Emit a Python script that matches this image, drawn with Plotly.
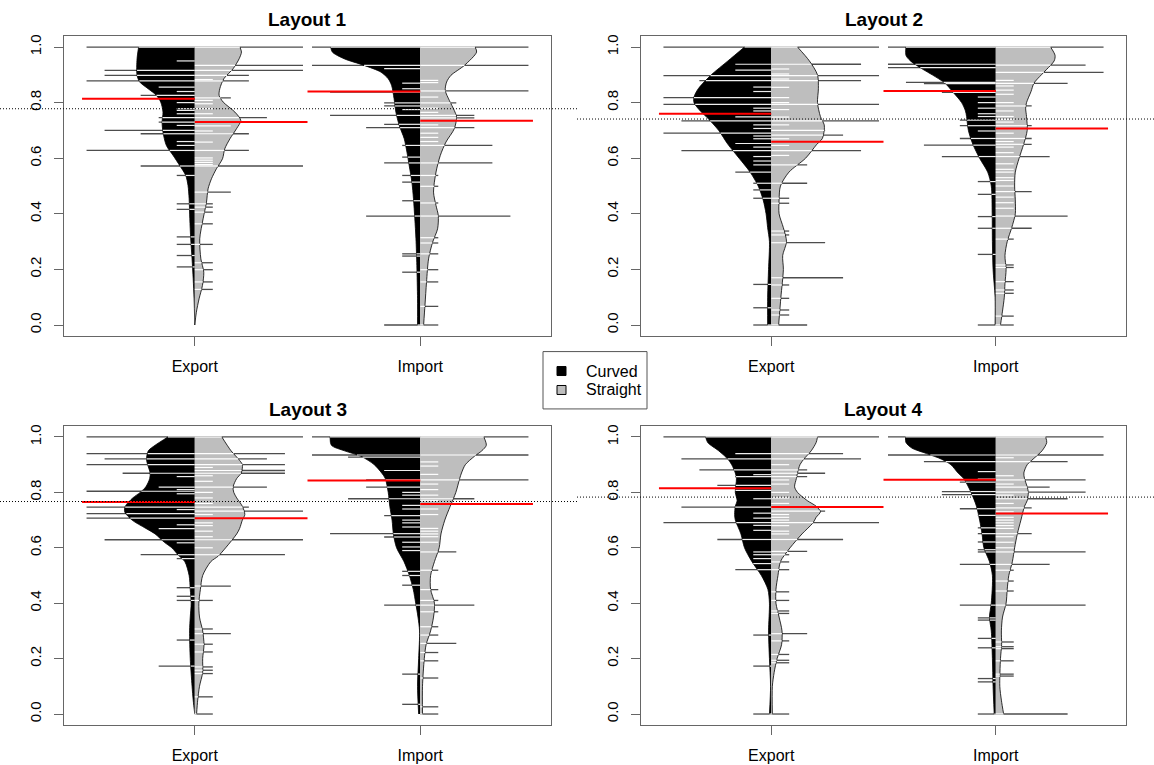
import numpy as np
import plotly.graph_objects as go

# ---------------- data ----------------
GROUPS = ["Export", "Import"]
SIDES = ["Curved", "Straight"]
TITLES = ["Layout 1", "Layout 2", "Layout 3", "Layout 4"]
Y_TICKS = [0.0, 0.2, 0.4, 0.6, 0.8, 1.0]
Y_TICK_LABELS = ["0.0", "0.2", "0.4", "0.6", "0.8", "1.0"]

OVERALL_MEAN = [0.778, 0.741, 0.767, 0.783]
MEAN_EXPORT_CURVED = [0.814, 0.760, 0.765, 0.815]
MEAN_EXPORT_STRAIGHT = [0.730, 0.659, 0.707, 0.747]
MEAN_IMPORT_CURVED = [0.840, 0.842, 0.843, 0.846]
MEAN_IMPORT_STRAIGHT = [0.735, 0.707, 0.758, 0.724]

# density half-widths (y level, half width)
L1_EXPORT_CURVED_Y = [0, 0.094, 0.166, 0.238, 0.31, 0.382, 0.454, 0.502, 0.538, 0.574, 0.61, 0.646, 0.694, 0.73, 0.766, 0.802, 0.826, 0.85, 0.874, 0.898, 0.958, 1.0]
L1_EXPORT_CURVED_W = [0, 0.003, 0.007, 0.012, 0.018, 0.022, 0.025, 0.03, 0.04, 0.067, 0.096, 0.126, 0.141, 0.145, 0.141, 0.151, 0.17, 0.207, 0.244, 0.256, 0.256, 0.249]
L1_EXPORT_STRAIGHT_Y = [0, 0.046, 0.094, 0.142, 0.19, 0.238, 0.31, 0.382, 0.442, 0.49, 0.526, 0.562, 0.598, 0.634, 0.67, 0.706, 0.736, 0.766, 0.802, 0.826, 0.85, 0.886, 0.922, 0.958, 0.982, 1.0]
L1_EXPORT_STRAIGHT_W = [0, 0.007, 0.019, 0.034, 0.04, 0.027, 0.022, 0.037, 0.052, 0.059, 0.074, 0.096, 0.123, 0.133, 0.156, 0.185, 0.204, 0.178, 0.126, 0.108, 0.111, 0.129, 0.17, 0.197, 0.207, 0.2]
L1_IMPORT_CURVED_Y = [0, 0.094, 0.214, 0.31, 0.382, 0.454, 0.514, 0.574, 0.622, 0.67, 0.718, 0.766, 0.814, 0.862, 0.886, 0.91, 0.934, 0.958, 0.982, 1.0]
L1_IMPORT_CURVED_W = [0.012, 0.012, 0.015, 0.019, 0.024, 0.03, 0.037, 0.049, 0.059, 0.071, 0.093, 0.108, 0.116, 0.127, 0.142, 0.175, 0.249, 0.338, 0.39, 0.397]
L1_IMPORT_STRAIGHT_Y = [0, 0.071, 0.155, 0.238, 0.298, 0.346, 0.394, 0.43, 0.478, 0.55, 0.61, 0.658, 0.706, 0.748, 0.772, 0.808, 0.844, 0.874, 0.898, 0.934, 0.982, 1.0]
L1_IMPORT_STRAIGHT_W = [0.015, 0.021, 0.028, 0.037, 0.055, 0.077, 0.08, 0.07, 0.059, 0.07, 0.089, 0.114, 0.151, 0.161, 0.151, 0.129, 0.111, 0.117, 0.136, 0.196, 0.25, 0.243]

L2_EXPORT_CURVED_Y = [0, 0.1, 0.2, 0.3, 0.35, 0.4, 0.45, 0.5, 0.55, 0.6, 0.65, 0.7, 0.75, 0.77, 0.8, 0.82, 0.85, 0.9, 0.95, 1.0]
L2_EXPORT_CURVED_W = [0.016, 0.016, 0.012, 0.008, 0.016, 0.023, 0.036, 0.058, 0.094, 0.143, 0.193, 0.234, 0.29, 0.316, 0.344, 0.344, 0.325, 0.267, 0.193, 0.119]
L2_EXPORT_STRAIGHT_Y = [0, 0.1, 0.2, 0.25, 0.3, 0.35, 0.4, 0.45, 0.5, 0.55, 0.6, 0.65, 0.67, 0.7, 0.72, 0.75, 0.8, 0.85, 0.9, 0.95, 1.0]
L2_EXPORT_STRAIGHT_W = [0.033, 0.043, 0.054, 0.051, 0.068, 0.054, 0.035, 0.035, 0.041, 0.079, 0.153, 0.203, 0.227, 0.236, 0.236, 0.219, 0.206, 0.21, 0.206, 0.17, 0.117]
L2_IMPORT_CURVED_Y = [0, 0.1, 0.2, 0.3, 0.4, 0.5, 0.55, 0.6, 0.65, 0.7, 0.75, 0.77, 0.8, 0.84, 0.87, 0.9, 0.92, 0.95, 0.97, 1.0]
L2_IMPORT_CURVED_W = [0.003, 0.003, 0.012, 0.015, 0.016, 0.02, 0.036, 0.072, 0.102, 0.122, 0.13, 0.135, 0.152, 0.193, 0.226, 0.283, 0.325, 0.38, 0.40, 0.40]
L2_IMPORT_STRAIGHT_Y = [0, 0.05, 0.1, 0.15, 0.2, 0.25, 0.3, 0.35, 0.4, 0.45, 0.5, 0.55, 0.6, 0.65, 0.7, 0.75, 0.78, 0.8, 0.84, 0.87, 0.9, 0.92, 0.95, 0.97, 1.0]
L2_IMPORT_STRAIGHT_W = [0.021, 0.03, 0.038, 0.041, 0.046, 0.041, 0.051, 0.071, 0.087, 0.087, 0.084, 0.087, 0.104, 0.124, 0.14, 0.137, 0.133, 0.137, 0.157, 0.17, 0.203, 0.227, 0.26, 0.264, 0.244]

L3_EXPORT_CURVED_Y = [0, 0.05, 0.1, 0.2, 0.3, 0.35, 0.4, 0.45, 0.5, 0.55, 0.57, 0.6, 0.62, 0.65, 0.67, 0.7, 0.73, 0.75, 0.78, 0.8, 0.82, 0.85, 0.87, 0.9, 0.92, 0.95, 0.97, 1.0]
L3_EXPORT_CURVED_W = [0, 0.007, 0.012, 0.02, 0.023, 0.02, 0.016, 0.02, 0.025, 0.044, 0.069, 0.102, 0.135, 0.176, 0.217, 0.278, 0.311, 0.308, 0.275, 0.242, 0.217, 0.2, 0.198, 0.209, 0.214, 0.206, 0.176, 0.119]
L3_EXPORT_STRAIGHT_Y = [0, 0.05, 0.1, 0.15, 0.2, 0.25, 0.3, 0.35, 0.4, 0.45, 0.5, 0.55, 0.57, 0.6, 0.65, 0.67, 0.7, 0.72, 0.75, 0.78, 0.8, 0.82, 0.85, 0.87, 0.9, 0.92, 0.95, 1.0]
L3_EXPORT_STRAIGHT_W = [0.008, 0.013, 0.021, 0.035, 0.035, 0.041, 0.035, 0.021, 0.018, 0.025, 0.035, 0.071, 0.104, 0.137, 0.186, 0.199, 0.211, 0.222, 0.211, 0.186, 0.173, 0.17, 0.186, 0.206, 0.211, 0.194, 0.161, 0.12]
L3_IMPORT_CURVED_Y = [0, 0.1, 0.2, 0.3, 0.35, 0.4, 0.45, 0.5, 0.55, 0.6, 0.65, 0.7, 0.75, 0.8, 0.85, 0.87, 0.9, 0.93, 0.95, 0.97, 1.0]
L3_IMPORT_CURVED_W = [0.007, 0.012, 0.007, 0.003, 0.01, 0.02, 0.031, 0.048, 0.072, 0.105, 0.119, 0.125, 0.135, 0.142, 0.155, 0.171, 0.204, 0.262, 0.336, 0.394, 0.40]
L3_IMPORT_STRAIGHT_Y = [0, 0.1, 0.2, 0.25, 0.3, 0.35, 0.4, 0.45, 0.5, 0.55, 0.6, 0.65, 0.7, 0.75, 0.8, 0.85, 0.87, 0.9, 0.93, 0.95, 0.97, 1.0]
L3_IMPORT_STRAIGHT_W = [0.01, 0.01, 0.018, 0.026, 0.046, 0.059, 0.063, 0.046, 0.046, 0.063, 0.084, 0.092, 0.109, 0.133, 0.158, 0.175, 0.183, 0.2, 0.24, 0.273, 0.293, 0.282]

L4_EXPORT_CURVED_Y = [0, 0.1, 0.2, 0.3, 0.4, 0.45, 0.5, 0.55, 0.6, 0.65, 0.7, 0.72, 0.75, 0.77, 0.8, 0.85, 0.87, 0.9, 0.92, 0.95, 0.98, 1.0]
L4_EXPORT_CURVED_W = [0.008, 0.003, 0.008, 0.012, 0.008, 0.015, 0.044, 0.086, 0.119, 0.135, 0.16, 0.163, 0.16, 0.152, 0.16, 0.155, 0.16, 0.176, 0.193, 0.234, 0.283, 0.292]
L4_EXPORT_STRAIGHT_Y = [0, 0.1, 0.15, 0.2, 0.25, 0.3, 0.35, 0.4, 0.45, 0.5, 0.55, 0.6, 0.65, 0.69, 0.71, 0.73, 0.75, 0.77, 0.8, 0.82, 0.85, 0.87, 0.9, 0.92, 0.95, 0.98, 1.0]
L4_EXPORT_STRAIGHT_W = [0.005, 0.005, 0.013, 0.026, 0.046, 0.048, 0.035, 0.021, 0.021, 0.03, 0.041, 0.084, 0.137, 0.186, 0.2, 0.219, 0.2, 0.161, 0.117, 0.104, 0.112, 0.117, 0.128, 0.145, 0.178, 0.2, 0.206]
L4_IMPORT_CURVED_Y = [0, 0.1, 0.2, 0.3, 0.35, 0.4, 0.5, 0.55, 0.6, 0.65, 0.7, 0.75, 0.8, 0.85, 0.87, 0.9, 0.92, 0.94, 0.96, 0.98, 1.0]
L4_IMPORT_CURVED_W = [0.007, 0.012, 0.015, 0.02, 0.028, 0.02, 0.015, 0.028, 0.053, 0.061, 0.072, 0.086, 0.11, 0.143, 0.168, 0.2, 0.242, 0.308, 0.374, 0.40, 0.402]
L4_IMPORT_STRAIGHT_Y = [0, 0.05, 0.1, 0.2, 0.25, 0.3, 0.35, 0.4, 0.45, 0.5, 0.55, 0.6, 0.65, 0.7, 0.75, 0.77, 0.8, 0.82, 0.85, 0.87, 0.9, 0.92, 0.95, 0.98, 1.0]
L4_IMPORT_STRAIGHT_W = [0.035, 0.025, 0.018, 0.021, 0.026, 0.025, 0.03, 0.046, 0.051, 0.058, 0.074, 0.084, 0.096, 0.112, 0.128, 0.14, 0.145, 0.14, 0.128, 0.125, 0.14, 0.166, 0.206, 0.227, 0.222]

# bean lines: observed values (V) and how many observations share the value (N)
L1_EXPORT_CURVED_V = [1.0, 0.916, 0.898, 0.878, 0.856, 0.826, 0.80, 0.778, 0.772, 0.746, 0.73, 0.718, 0.70, 0.688, 0.646, 0.628, 0.572, 0.538, 0.436, 0.416, 0.317, 0.29, 0.25, 0.209, 0.95, 0.84, 0.76, 0.66]
L1_EXPORT_CURVED_N = [6, 5, 5, 6, 2, 3, 1, 1, 1, 2, 2, 1, 5, 3, 1, 6, 3, 1, 1, 1, 1, 1, 1, 1, 1, 1, 1, 1]
L1_EXPORT_STRAIGHT_V = [1.0, 0.934, 0.916, 0.898, 0.878, 0.817, 0.746, 0.73, 0.716, 0.688, 0.628, 0.572, 0.478, 0.436, 0.424, 0.406, 0.364, 0.29, 0.224, 0.199, 0.155, 0.128, 0.883, 0.808, 0.796, 0.778, 0.76, 0.698, 0.658, 0.601, 0.593, 0.585, 0.577]
L1_EXPORT_STRAIGHT_N = [6, 6, 6, 3, 3, 2, 4, 3, 2, 3, 3, 6, 2, 1, 1, 1, 1, 1, 1, 1, 1, 1, 1, 1, 1, 1, 1, 1, 1, 1, 1, 1, 1]
L1_IMPORT_CURVED_V = [1.0, 0.934, 0.922, 0.870, 0.838, 0.799, 0.788, 0.754, 0.722, 0.71, 0.646, 0.604, 0.583, 0.538, 0.514, 0.447, 0.392, 0.256, 0.248, 0.19, 0.0, 0.85, 0.775]
L1_IMPORT_CURVED_N = [6, 6, 2, 1, 5, 2, 2, 5, 2, 3, 1, 1, 2, 1, 1, 1, 3, 1, 1, 1, 2, 1, 1]
L1_IMPORT_STRAIGHT_V = [1.0, 0.934, 0.842, 0.799, 0.754, 0.745, 0.71, 0.646, 0.583, 0.538, 0.499, 0.439, 0.392, 0.314, 0.295, 0.256, 0.199, 0.155, 0.067, 0.0, 0.88, 0.872, 0.82, 0.78, 0.765, 0.735, 0.72, 0.69, 0.675, 0.66]
L1_IMPORT_STRAIGHT_N = [6, 6, 6, 2, 3, 3, 3, 4, 4, 1, 1, 1, 5, 1, 1, 1, 1, 1, 1, 1, 1, 1, 1, 1, 1, 1, 1, 1, 1, 1]

L2_EXPORT_CURVED_V = [1.0, 0.938, 0.917, 0.897, 0.879, 0.856, 0.818, 0.794, 0.78, 0.749, 0.734, 0.707, 0.69, 0.653, 0.627, 0.606, 0.59, 0.576, 0.55, 0.51, 0.486, 0.456, 0.146, 0.062, 0.0, 0.84, 0.77, 0.72, 0.68, 0.67, 0.64]
L2_EXPORT_CURVED_N = [6, 2, 2, 6, 4, 1, 6, 6, 1, 2, 5, 1, 6, 2, 5, 1, 1, 1, 2, 1, 1, 1, 1, 1, 1, 1, 1, 1, 1, 1, 1]
L2_EXPORT_STRAIGHT_V = [1.0, 0.938, 0.897, 0.879, 0.818, 0.794, 0.734, 0.70, 0.683, 0.627, 0.576, 0.51, 0.456, 0.438, 0.338, 0.324, 0.296, 0.17, 0.144, 0.096, 0.054, 0.036, 0.0, 0.921, 0.903, 0.885, 0.855, 0.8, 0.775, 0.748, 0.72, 0.67, 0.646, 0.61]
L2_EXPORT_STRAIGHT_N = [6, 5, 6, 5, 1, 6, 6, 3, 4, 5, 2, 2, 1, 1, 1, 1, 3, 4, 1, 1, 1, 1, 2, 1, 1, 1, 1, 1, 1, 1, 1, 1, 1, 1]
L2_IMPORT_CURVED_V = [1.0, 0.938, 0.926, 0.873, 0.868, 0.837, 0.78, 0.737, 0.717, 0.698, 0.671, 0.647, 0.606, 0.516, 0.47, 0.39, 0.348, 0.254, 0.0, 0.82, 0.80, 0.76, 0.75]
L2_IMPORT_CURVED_N = [6, 6, 6, 5, 4, 3, 1, 2, 2, 1, 2, 4, 3, 1, 1, 1, 1, 1, 1, 1, 1, 1, 1]
L2_IMPORT_STRAIGHT_V = [1.0, 0.935, 0.909, 0.869, 0.788, 0.717, 0.671, 0.65, 0.606, 0.48, 0.392, 0.348, 0.309, 0.216, 0.207, 0.156, 0.126, 0.114, 0.032, 0.0, 0.88, 0.86, 0.845, 0.83, 0.8, 0.77, 0.75, 0.74, 0.73, 0.69, 0.66, 0.64, 0.62, 0.58, 0.56, 0.55, 0.53, 0.52, 0.5, 0.46, 0.44, 0.42]
L2_IMPORT_STRAIGHT_N = [6, 5, 6, 4, 2, 2, 2, 2, 3, 2, 4, 2, 1, 1, 1, 1, 1, 1, 1, 1, 1, 1, 1, 1, 1, 1, 1, 1, 1, 1, 1, 1, 1, 1, 1, 1, 1, 1, 1, 1, 1, 1]

L3_EXPORT_CURVED_V = [1.0, 0.94, 0.921, 0.9, 0.869, 0.857, 0.819, 0.81, 0.804, 0.795, 0.747, 0.738, 0.723, 0.707, 0.683, 0.669, 0.629, 0.618, 0.575, 0.561, 0.456, 0.425, 0.41, 0.267, 0.173]
L3_EXPORT_CURVED_N = [6, 6, 5, 6, 4, 1, 2, 1, 6, 1, 6, 1, 6, 6, 1, 2, 5, 1, 3, 1, 1, 1, 1, 1, 2]
L3_EXPORT_STRAIGHT_V = [1.0, 0.94, 0.921, 0.9, 0.879, 0.869, 0.819, 0.747, 0.732, 0.629, 0.575, 0.462, 0.41, 0.307, 0.29, 0.252, 0.224, 0.17, 0.158, 0.146, 0.062, 0.0, 0.89, 0.86, 0.84, 0.8, 0.78, 0.76, 0.72, 0.69, 0.68, 0.66, 0.64, 0.6]
L3_EXPORT_STRAIGHT_N = [6, 5, 4, 5, 5, 5, 4, 3, 6, 6, 5, 2, 1, 1, 2, 1, 1, 1, 1, 1, 1, 1, 1, 1, 1, 1, 1, 1, 1, 1, 1, 1, 1, 1]
L3_IMPORT_CURVED_V = [1.0, 0.935, 0.927, 0.879, 0.845, 0.819, 0.777, 0.753, 0.716, 0.675, 0.651, 0.639, 0.603, 0.515, 0.5, 0.465, 0.393, 0.144, 0.035, 0.8, 0.79, 0.74, 0.7, 0.69, 0.62, 0.59]
L3_IMPORT_CURVED_N = [6, 6, 4, 2, 3, 3, 4, 1, 2, 1, 5, 2, 1, 1, 1, 1, 2, 1, 1, 1, 1, 1, 1, 1, 1, 1]
L3_IMPORT_STRAIGHT_V = [1.0, 0.935, 0.845, 0.777, 0.585, 0.519, 0.449, 0.41, 0.393, 0.369, 0.315, 0.285, 0.255, 0.222, 0.192, 0.13, 0.026, 0.0, 0.91, 0.895, 0.865, 0.83, 0.81, 0.79, 0.77, 0.74, 0.72, 0.67, 0.66, 0.65, 0.64, 0.62]
L3_IMPORT_STRAIGHT_N = [6, 6, 6, 3, 2, 1, 1, 1, 3, 1, 1, 1, 2, 1, 1, 1, 1, 1, 1, 1, 1, 1, 1, 1, 1, 1, 1, 1, 1, 1, 1, 1]

L4_EXPORT_CURVED_V = [1.0, 0.94, 0.921, 0.881, 0.864, 0.857, 0.825, 0.807, 0.777, 0.747, 0.725, 0.707, 0.691, 0.681, 0.663, 0.63, 0.585, 0.575, 0.561, 0.543, 0.521, 0.285, 0.173, 0.0]
L4_EXPORT_CURVED_N = [6, 2, 5, 4, 1, 2, 3, 2, 1, 5, 1, 1, 6, 1, 1, 3, 1, 1, 1, 1, 2, 1, 1, 1]
L4_EXPORT_STRAIGHT_V = [1.0, 0.94, 0.921, 0.881, 0.869, 0.857, 0.732, 0.691, 0.63, 0.587, 0.575, 0.549, 0.521, 0.441, 0.41, 0.372, 0.363, 0.29, 0.264, 0.215, 0.194, 0.185, 0.0, 0.9, 0.845, 0.83, 0.8, 0.78, 0.76, 0.72, 0.71, 0.70, 0.68, 0.66, 0.65]
L4_EXPORT_STRAIGHT_N = [6, 4, 5, 2, 3, 2, 3, 6, 4, 2, 1, 1, 1, 1, 1, 1, 1, 2, 1, 1, 1, 1, 1, 1, 1, 1, 1, 1, 1, 1, 1, 1, 1, 1, 1]
L4_IMPORT_CURVED_V = [1.0, 0.935, 0.911, 0.875, 0.848, 0.837, 0.803, 0.792, 0.741, 0.717, 0.672, 0.651, 0.621, 0.593, 0.585, 0.54, 0.393, 0.347, 0.339, 0.273, 0.239, 0.128, 0.116, 0.0]
L4_IMPORT_CURVED_N = [6, 6, 4, 1, 1, 2, 3, 3, 2, 1, 1, 1, 1, 1, 1, 2, 2, 1, 1, 1, 1, 1, 1, 1]
L4_IMPORT_STRAIGHT_V = [1.0, 0.935, 0.911, 0.845, 0.819, 0.801, 0.777, 0.744, 0.651, 0.585, 0.54, 0.519, 0.48, 0.444, 0.393, 0.26, 0.243, 0.236, 0.192, 0.144, 0.137, 0.0, 0.925, 0.86, 0.83, 0.79, 0.76, 0.73, 0.71, 0.70, 0.69, 0.68, 0.67, 0.64, 0.62, 0.6]
L4_IMPORT_STRAIGHT_N = [6, 6, 4, 5, 3, 5, 4, 2, 2, 5, 3, 1, 1, 1, 5, 1, 1, 1, 1, 1, 1, 4, 1, 1, 1, 1, 1, 1, 1, 1, 1, 1, 1, 1, 1, 1]

MEANS = {
    ("EXPORT", "CURVED"): MEAN_EXPORT_CURVED,
    ("EXPORT", "STRAIGHT"): MEAN_EXPORT_STRAIGHT,
    ("IMPORT", "CURVED"): MEAN_IMPORT_CURVED,
    ("IMPORT", "STRAIGHT"): MEAN_IMPORT_STRAIGHT,
}

# ---------------- styling / geometry ----------------
W_PX, H_PX = 1154, 765
BOXES = [(64, 551, 34, 335), (641, 1126, 34, 335), (64, 551, 425, 725), (641, 1126, 425, 725)]
FIG_X = [(0, 577), (577, 1154), (0, 577), (577, 1154)]
LINE_UNIT = 0.08
MEAN_LEN = 0.5
FILL = {"CURVED": "#000000", "STRAIGHT": "#bebebe"}
SIGN = {"CURVED": -1, "STRAIGHT": 1}
OUTER_COL = "#4d4d4d"
INNER_COL = {"CURVED": "#eeeeee", "STRAIGHT": "#ffffff"}
FONT = "Liberation Sans, Arial, sans-serif"

fig = go.Figure()
layout = dict(width=W_PX, height=H_PX, margin=dict(l=0, r=0, t=0, b=0),
              paper_bgcolor="white", plot_bgcolor="white", showlegend=False,
              hovermode=False)
shapes, annotations = [], []

for p in range(4):
    xa = "x" if p == 0 else f"x{p+1}"
    ya = "y" if p == 0 else f"y{p+1}"
    x0, x1, ytop, ybot = BOXES[p]
    layout["xaxis" if p == 0 else f"xaxis{p+1}"] = dict(
        domain=[x0 / W_PX, x1 / W_PX], range=[0.42, 2.58], anchor=ya,
        tickvals=[1, 2], ticktext=GROUPS, ticks="outside", ticklen=9, tickcolor="#666",
        showline=True, mirror=True, linecolor="#666", linewidth=1.2, showgrid=False,
        zeroline=False, tickfont=dict(family=FONT, size=16, color="black"), ticklabelstandoff=7)
    layout["yaxis" if p == 0 else f"yaxis{p+1}"] = dict(
        domain=[(H_PX - ybot) / H_PX, (H_PX - ytop) / H_PX], range=[-0.04, 1.04], anchor=xa,
        tickvals=Y_TICKS, ticktext=Y_TICK_LABELS, ticks="outside", ticklen=9, tickcolor="#666",
        tickangle=-90, showline=True, mirror=True, linecolor="#666", linewidth=1.2,
        showgrid=False, zeroline=False, tickfont=dict(family=FONT, size=15, color="black"),
        ticklabelstandoff=7)

    outer_traces, bean_traces, inner_traces, mean_traces = [], [], [], []
    for gi, g in enumerate(["EXPORT", "IMPORT"]):
        c = gi + 1
        for s in ["CURVED", "STRAIGHT"]:
            sg = SIGN[s]
            ys = np.array(globals()[f"L{p+1}_{g}_{s}_Y"], float)
            ws = np.array(globals()[f"L{p+1}_{g}_{s}_W"], float)
            vs = globals()[f"L{p+1}_{g}_{s}_V"]
            ns = globals()[f"L{p+1}_{g}_{s}_N"]
            ox, oy, ix, iy = [], [], [], []
            for v, n in zip(vs, ns):
                L = LINE_UNIT * n
                ox += [c, c + sg * L, None]
                oy += [v, v, None]
                inner = min(L, float(np.interp(v, ys, ws)))
                ix += [c, c + sg * inner, None]
                iy += [v, v, None]
            outer_traces.append(go.Scatter(x=ox, y=oy, mode="lines", xaxis=xa, yaxis=ya,
                                           line=dict(color=OUTER_COL, width=1.3)))
            inner_traces.append(go.Scatter(x=ix, y=iy, mode="lines", xaxis=xa, yaxis=ya,
                                           line=dict(color=INNER_COL[s], width=1.2)))
            bean_traces.append(go.Scatter(x=[c] * len(ys), y=ys, mode="lines", xaxis=xa, yaxis=ya,
                                          line=dict(color="rgba(0,0,0,0)", width=0)))
            bean_traces.append(go.Scatter(x=c + sg * ws, y=ys, mode="lines", xaxis=xa, yaxis=ya,
                                          fill="tonextx", fillcolor=FILL[s],
                                          line=dict(color="black", width=0.8, shape="spline", smoothing=0.8)))
            m = MEANS[(g, s)][p]
            mean_traces.append(go.Scatter(x=[c, c + sg * MEAN_LEN], y=[m, m], mode="lines",
                                          xaxis=xa, yaxis=ya, line=dict(color="#ff0000", width=2)))
    for t in outer_traces + bean_traces + inner_traces + mean_traces:
        fig.add_trace(t)

    fx0, fx1 = FIG_X[p]
    shapes.append(dict(type="line", xref="paper", yref=ya, x0=fx0 / W_PX, x1=fx1 / W_PX,
                       y0=OVERALL_MEAN[p], y1=OVERALL_MEAN[p],
                       line=dict(color="black", width=1, dash="1px,2px")))
    annotations.append(dict(text=f"<b>{TITLES[p]}</b>", xref="paper", yref="paper",
                            x=(x0 + x1) / 2 / W_PX, y=(H_PX - (ytop - 16)) / H_PX,
                            xanchor="center", yanchor="middle", showarrow=False,
                            font=dict(family=FONT, size=19, color="black")))

# legend box
shapes.append(dict(type="rect", xref="paper", yref="paper", x0=543 / W_PX, x1=647 / W_PX,
                   y0=(H_PX - 408) / H_PX, y1=(H_PX - 350.5) / H_PX,
                   line=dict(color="#555", width=1), fillcolor="white"))
for k, (lab, col, yc) in enumerate([(SIDES[0], "#000000", 370), (SIDES[1], "#bebebe", 389)]):
    shapes.append(dict(type="rect", xref="paper", yref="paper", x0=557 / W_PX, x1=566 / W_PX,
                       y0=(H_PX - yc - 4.5) / H_PX, y1=(H_PX - yc + 4.5) / H_PX,
                       line=dict(color="black", width=1), fillcolor=col))
    annotations.append(dict(text=lab, xref="paper", yref="paper", x=584 / W_PX,
                            y=(H_PX - yc) / H_PX, xanchor="left", yanchor="middle",
                            showarrow=False, font=dict(family=FONT, size=16, color="black")))

layout["shapes"] = shapes
layout["annotations"] = annotations
fig.update_layout(**layout)
fig.write_html("out.html")
